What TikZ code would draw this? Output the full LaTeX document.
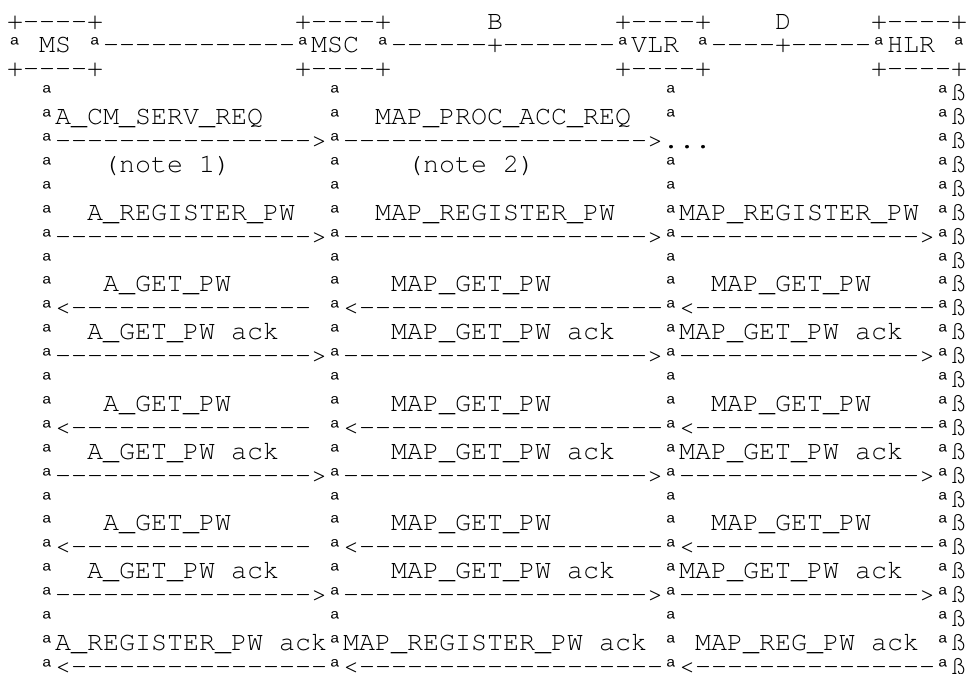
\documentclass[tikz,border=0pt]{standalone}
\usepackage{fontspec}
\newfontfamily\monofam{TeX Gyre Cursor}
\newfontfamily\ordfam{Liberation Mono}
% small raised ordfeminine, one column wide
\newcommand\oa{\makebox[16pt][c]{\raisebox{1pt}{\ordfam\fontsize{20pt}{20pt}\selectfont ª}}}
\tikzset{txt/.style={anchor=base west, inner sep=0pt, outer sep=0pt,
  font=\monofam\fontsize{26.67pt}{24pt}\selectfont}}
% place text #3 at row #1 (1..28), column #2 (0..59)
\newcommand\putc[3]{\node[txt] (r#1c#2) at ({(7+16*#2)*1pt},{-(29+23.9*(#1-1))*1pt}) {#3};}
\begin{document}
\begin{tikzpicture}
\path[use as bounding box, fill=white] (0,0) rectangle (968pt,-673pt);
% header
\putc{1}{0}{+----+}
\putc{1}{18}{+----+}
\putc{1}{30}{B}
\putc{1}{38}{+----+}
\putc{1}{48}{D}
\putc{1}{54}{+----+}
\putc{2}{0}{\oa}
\putc{2}{2}{MS}
\putc{2}{5}{\oa------------\oa MSC}
\putc{2}{23}{\oa------+-------\oa VLR}
\putc{2}{43}{\oa----+-----\oa HLR}
\putc{2}{59}{\oa}
\putc{3}{0}{+----+}
\putc{3}{18}{+----+}
\putc{3}{38}{+----+}
\putc{3}{54}{+----+}
% lifelines
\foreach \r in {4,...,28}{
  \putc{\r}{2}{\oa}
  \putc{\r}{20}{\oa}
  \putc{\r}{58}{\oa ß}
}
\foreach \r in {4,5,7,8,...,28}{
  \putc{\r}{41}{\oa}
}
% messages
\putc{5}{3}{A\_CM\_SERV\_REQ}
\putc{5}{23}{MAP\_PROC\_ACC\_REQ}
\putc{6}{3}{---------------->}
\putc{6}{21}{------------------->}
\putc{6}{41}{...}
\putc{7}{6}{(note 1)}
\putc{7}{25}{(note 2)}
\putc{9}{5}{A\_REGISTER\_PW}
\putc{9}{23}{MAP\_REGISTER\_PW}
\putc{9}{42}{MAP\_REGISTER\_PW}
\foreach \r in {10,15,20,25}{
  \putc{\r}{3}{---------------->}
  \putc{\r}{21}{------------------->}
  \putc{\r}{42}{--------------->}
}
\foreach \r in {12,17,22}{
  \putc{\r}{6}{A\_GET\_PW}
  \putc{\r}{24}{MAP\_GET\_PW}
  \putc{\r}{44}{MAP\_GET\_PW}
}
\foreach \r in {13,18,23}{
  \putc{\r}{3}{<---------------}
  \putc{\r}{21}{<-------------------}
  \putc{\r}{42}{<---------------}
}
\foreach \r in {14,19,24}{
  \putc{\r}{5}{A\_GET\_PW ack}
  \putc{\r}{24}{MAP\_GET\_PW ack}
  \putc{\r}{42}{MAP\_GET\_PW ack}
}
\putc{27}{3}{A\_REGISTER\_PW ack}
\putc{27}{21}{MAP\_REGISTER\_PW ack}
\putc{27}{43}{MAP\_REG\_PW ack}
\putc{28}{3}{<----------------}
\putc{28}{21}{<-------------------}
\putc{28}{42}{<---------------}
\end{tikzpicture}
\end{document}
